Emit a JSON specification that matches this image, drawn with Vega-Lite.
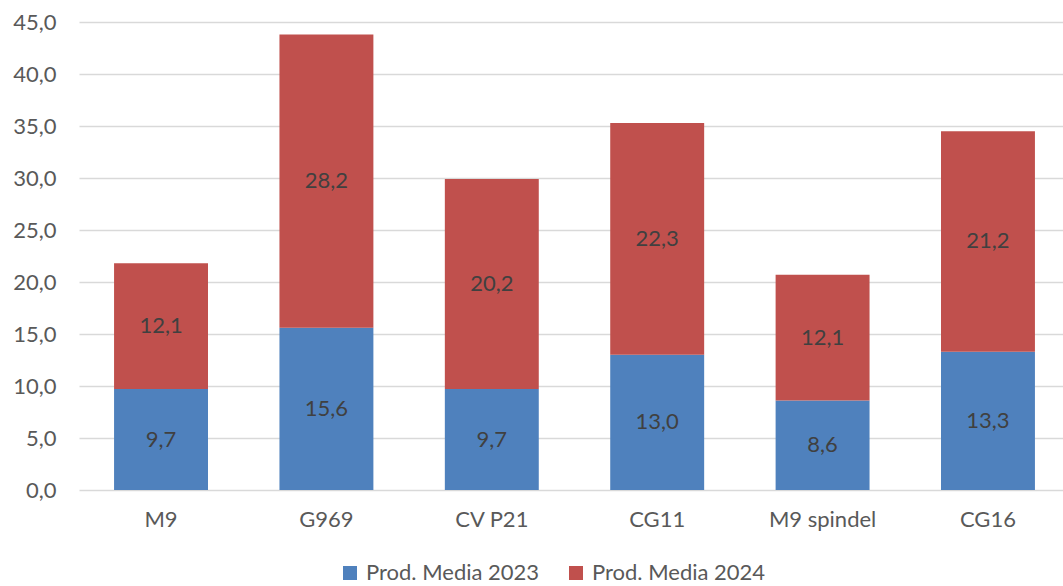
{
  "$schema": "https://vega.github.io/schema/vega-lite/v6.json",
  "width": 984,
  "height": 468,
  "autosize": {"type": "none"},
  "padding": {"left": 79, "top": 22, "right": 0, "bottom": 96},
  "background": "white",
  "config": {
    "locale": {"number": {"decimal": ",", "thousands": ".", "grouping": [3], "currency": ["", " €"]}},
    "view": {"stroke": null},
    "font": "Lato"
  },
  "data": {
    "values": [
      {"cat": "M9", "serie": "Prod. Media 2023", "ord": 1, "value": 9.7},
      {"cat": "M9", "serie": "Prod. Media 2024", "ord": 2, "value": 12.1},
      {"cat": "G969", "serie": "Prod. Media 2023", "ord": 1, "value": 15.6},
      {"cat": "G969", "serie": "Prod. Media 2024", "ord": 2, "value": 28.2},
      {"cat": "CV P21", "serie": "Prod. Media 2023", "ord": 1, "value": 9.7},
      {"cat": "CV P21", "serie": "Prod. Media 2024", "ord": 2, "value": 20.2},
      {"cat": "CG11", "serie": "Prod. Media 2023", "ord": 1, "value": 13.0},
      {"cat": "CG11", "serie": "Prod. Media 2024", "ord": 2, "value": 22.3},
      {"cat": "M9 spindel", "serie": "Prod. Media 2023", "ord": 1, "value": 8.6},
      {"cat": "M9 spindel", "serie": "Prod. Media 2024", "ord": 2, "value": 12.1},
      {"cat": "CG16", "serie": "Prod. Media 2023", "ord": 1, "value": 13.3},
      {"cat": "CG16", "serie": "Prod. Media 2024", "ord": 2, "value": 21.2}
    ]
  },
  "transform": [
    {"stack": "value", "groupby": ["cat"], "sort": [{"field": "ord", "order": "ascending"}], "as": ["v0", "v1"]},
    {"calculate": "(datum.v0 + datum.v1) / 2", "as": "mid"}
  ],
  "encoding": {
    "x": {
      "field": "cat",
      "type": "nominal",
      "sort": ["M9", "G969", "CV P21", "CG11", "M9 spindel", "CG16"],
      "scale": {"paddingInner": 0.432, "paddingOuter": 0.212, "range": [0, 991]},
      "axis": {
        "title": null,
        "labelAngle": 0,
        "ticks": false,
        "domain": false,
        "labelPadding": 19,
        "labelFontSize": 22,
        "labelColor": "#595959",
        "labelFont": "Lato"
      }
    }
  },
  "layer": [
    {
      "mark": {"type": "bar"},
      "encoding": {
        "y": {
          "field": "v1",
          "type": "quantitative",
          "scale": {"domain": [0, 45], "nice": false},
          "axis": {
            "title": null,
            "values": [0, 5, 10, 15, 20, 25, 30, 35, 40, 45],
            "format": ".1f",
            "domain": false,
            "ticks": false,
            "labelPadding": 23,
            "labelFontSize": 22,
            "labelColor": "#595959",
            "labelFont": "Lato",
            "gridColor": "#d9d9d9",
            "gridWidth": 1.3
          }
        },
        "y2": {"field": "v0"},
        "color": {
          "field": "serie",
          "type": "nominal",
          "scale": {"domain": ["Prod. Media 2023", "Prod. Media 2024"], "range": ["#4F81BD", "#C0504D"]},
          "legend": {
            "title": null,
            "orient": "none",
            "direction": "horizontal",
            "legendX": 260,
            "legendY": 540,
            "symbolType": "square",
            "symbolSize": 196,
            "symbolStrokeWidth": 0,
            "symbolOpacity": 1,
            "labelFontSize": 22,
            "labelColor": "#595959",
            "labelFont": "Lato",
            "labelLimit": 400,
            "labelOffset": 5,
            "columnPadding": 25
          }
        }
      }
    },
    {
      "mark": {"type": "text", "fontSize": 22, "color": "#404040", "font": "Lato", "baseline": "middle"},
      "encoding": {
        "y": {"field": "mid", "type": "quantitative"},
        "text": {"field": "value", "type": "quantitative", "format": ".1f"}
      }
    }
  ]
}
